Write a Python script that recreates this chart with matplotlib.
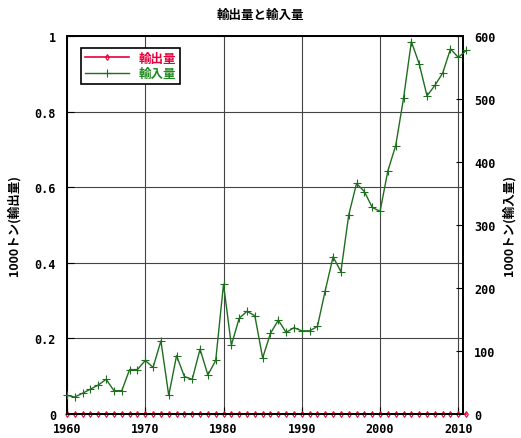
import numpy as np
import matplotlib
matplotlib.use("Agg")
import matplotlib.pyplot as plt

plt.rcParams['font.family'] = ['Noto Sans CJK JP', 'DejaVu Sans']

# yearly data, 1000 tons
years = list(range(1960, 2012))
exports = [0.0] * len(years)
imports = [29.5, 27, 33, 39.5, 46, 55, 37, 37, 70.5, 70.5,
           85, 74, 116, 29.5, 92.6, 59.5, 55, 103, 62, 85,
           206, 109, 152, 163, 156, 89, 128, 149, 129.5, 137,
           132, 132, 139, 196, 249.5, 226, 316, 366, 353, 328,
           321.6, 386, 426, 501, 591, 556, 505, 521.5, 541, 579.5,
           566, 577]

x_ticks = [1960, 1970, 1980, 1990, 2000, 2010]
left_ticks = [0, 0.2, 0.4, 0.6, 0.8, 1]
left_labels = ['0', '0.2', '0.4', '0.6', '0.8', '1']
right_ticks = [0, 100, 200, 300, 400, 500, 600]

mono = dict(family='DejaVu Sans Mono', weight='bold', size=8.5)

fig = plt.figure(figsize=(5.21, 4.39), dpi=100)
ax = fig.add_axes([67/521, 24/439, 396/521, 378/439])
ax2 = ax.twinx()

l1, = ax.plot(years, exports, color='#e8003c', lw=1.2, marker='d', ms=3,
              mfc='none', mew=0.8, clip_on=False, zorder=3)
l2, = ax2.plot(years, imports, color='#1f6e1f', lw=1.0, marker='+', ms=6,
               mew=0.8, clip_on=False, zorder=3)

ax.set_xlim(1960, 2010.6)
ax.set_ylim(0, 1)
ax2.set_ylim(0, 600)

ax.set_xticks(x_ticks)
ax.set_xticklabels([str(t) for t in x_ticks], fontdict=mono)
ax.set_yticks(left_ticks)
ax.set_yticklabels(left_labels, fontdict=mono)
ax2.set_yticks(right_ticks)
ax2.set_yticklabels([str(t) for t in right_ticks], fontdict=mono)
ax.tick_params(direction='in', length=5, width=0.8, pad=8)
ax.tick_params(axis='x', pad=6)
ax2.tick_params(direction='in', length=5, width=0.8, pad=8)

ax.grid(True, color='#444444', lw=0.8)
for a in (ax, ax2):
    for s in a.spines.values():
        s.set_linewidth(1.4)

ax.set_ylabel('1000トン(輸出量)', fontsize=9, fontweight='bold', labelpad=10)
ax2.set_ylabel('1000トン(輸入量)', fontsize=9, fontweight='bold', rotation=90,
               labelpad=5)
fig.text(0.5, 0.965, '輸出量と輸入量', ha='center', va='center',
         fontsize=9, fontweight='bold')

leg = ax2.legend([l1, l2], ['輸出量', '輸入量'], loc='upper left',
                 bbox_to_anchor=(0.02, 0.985), fancybox=False, framealpha=1,
                 edgecolor='black', fontsize=9, handlelength=3.5,
                 borderpad=0.3, labelspacing=0.2)
leg.get_frame().set_linewidth(1.2)
for txt, c in zip(leg.get_texts(), ['#e8003c', '#1f8a1f']):
    txt.set_color(c)
    txt.set_fontweight('bold')

fig.savefig('out.png', dpi=100)
